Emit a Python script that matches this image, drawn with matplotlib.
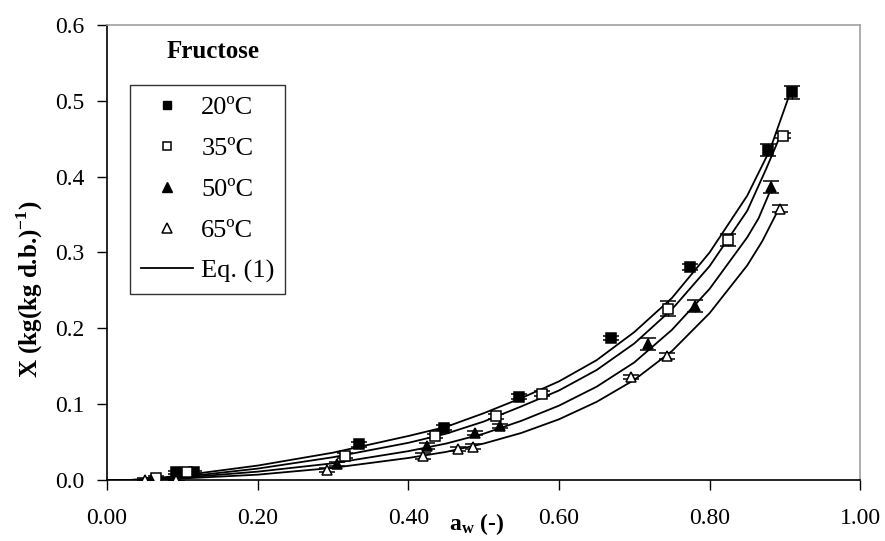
import matplotlib
matplotlib.use("Agg")
import matplotlib.pyplot as plt
from matplotlib.lines import Line2D
import numpy as np

plt.rcParams['font.family'] = ['Liberation Serif', 'DejaVu Serif']
plt.rcParams['mathtext.fontset'] = 'custom'
plt.rcParams['mathtext.rm'] = 'Liberation Serif'
plt.rcParams['mathtext.bf'] = 'Liberation Serif:bold'

# experimental points: water activity and moisture content
aw_20 = [0.092, 0.116, 0.335, 0.448, 0.547, 0.669, 0.774, 0.877, 0.910]
x_20 = [0.010, 0.010, 0.047, 0.069, 0.110, 0.187, 0.281, 0.435, 0.511]
aw_35 = [0.065, 0.106, 0.316, 0.436, 0.517, 0.578, 0.745, 0.825, 0.897]
x_35 = [0.003, 0.010, 0.032, 0.058, 0.084, 0.114, 0.226, 0.317, 0.454]
aw_50 = [0.058, 0.093, 0.305, 0.425, 0.488, 0.522, 0.718, 0.781, 0.882]
x_50 = [0.000, 0.001, 0.021, 0.045, 0.062, 0.071, 0.179, 0.229, 0.386]
aw_65 = [0.051, 0.092, 0.292, 0.420, 0.466, 0.486, 0.696, 0.743, 0.894]
x_65 = [0.000, 0.000, 0.013, 0.032, 0.041, 0.044, 0.136, 0.164, 0.358]

# error bar half-widths
err_20 = [0.002, 0.002, 0.003, 0.003, 0.003, 0.003, 0.004, 0.008, 0.008]
err_35 = [0.002, 0.002, 0.003, 0.003, 0.003, 0.003, 0.010, 0.008, 0.003]
err_50 = [0.002, 0.002, 0.003, 0.004, 0.003, 0.003, 0.008, 0.008, 0.008]
err_65 = [0.002, 0.002, 0.003, 0.004, 0.003, 0.003, 0.003, 0.004, 0.004]

# Eq. (1) curves
aw_fit = [0.0, 0.03, 0.05, 0.1, 0.2, 0.3, 0.4, 0.45, 0.5, 0.55, 0.6, 0.65, 0.7, 0.75, 0.8, 0.85]
fit_20 = [0.0, 0.0, 0.001, 0.006, 0.019, 0.036, 0.058, 0.070, 0.088, 0.108, 0.130, 0.158, 0.195, 0.240, 0.300, 0.375]
fit_35 = [0.0, 0.0, 0.001, 0.004, 0.015, 0.030, 0.049, 0.061, 0.077, 0.097, 0.118, 0.145, 0.180, 0.225, 0.282, 0.355]
fit_50 = [0.0, 0.0, 0.0, 0.003, 0.011, 0.022, 0.038, 0.048, 0.061, 0.078, 0.098, 0.123, 0.155, 0.198, 0.252, 0.320]
fit_65 = [0.0, 0.0, 0.0, 0.002, 0.007, 0.016, 0.029, 0.037, 0.048, 0.062, 0.080, 0.103, 0.132, 0.170, 0.220, 0.283]
end_20_aw = [0.88, 0.905]
end_20_x = [0.435, 0.505]
end_35_aw = [0.875, 0.893]
end_35_x = [0.41, 0.452]
end_50_aw = [0.865, 0.88]
end_50_x = [0.345, 0.380]
end_65_aw = [0.87, 0.888]
end_65_x = [0.315, 0.350]

fig = plt.figure(figsize=(8.85, 5.41), dpi=100)
ax = fig.add_axes([0.121, 0.1128, 0.851, 0.841])

ax.plot(aw_fit + end_20_aw, fit_20 + end_20_x, color='black', lw=1.3)
ax.plot(aw_fit + end_35_aw, fit_35 + end_35_x, color='black', lw=1.3)
ax.plot(aw_fit + end_50_aw, fit_50 + end_50_x, color='black', lw=1.3)
ax.plot(aw_fit + end_65_aw, fit_65 + end_65_x, color='black', lw=1.3)

ms = 6.5
series = [
    (aw_20, x_20, err_20, 's', 'black', ms),
    (aw_35, x_35, err_35, 's', 'white', ms),
    (aw_50, x_50, err_50, '^', 'black', ms + 1),
    (aw_65, x_65, err_65, '^', 'white', ms + 1),
]
for a, x, e, m, fc, size in series:
    ax.errorbar(a, x, yerr=e, fmt=m, mfc=fc, mec='black', ms=size, mew=1.1,
                ecolor='black', elinewidth=1, capsize=5.5, zorder=3)

ax.set_xlim(0, 1.0)
ax.set_ylim(0, 0.6)
xt = np.arange(0, 1.01, 0.2)
yt = np.arange(0, 0.61, 0.1)
ax.set_xticks(xt)
ax.set_yticks(yt)
ax.set_xticklabels([f"{v:.2f}" for v in xt])
ax.set_yticklabels([f"{v:.1f}" for v in yt])
ax.tick_params(labelsize=17, direction='out', length=7, width=1)
ax.tick_params(axis='x', pad=13)
ax.tick_params(axis='y', pad=9)
for s in ['top', 'right']:
    ax.spines[s].set_color('#a0a0a0')
    ax.spines[s].set_linewidth(1.2)
ax.spines['left'].set_linewidth(1.2)
ax.spines['bottom'].set_linewidth(1.2)

ax.set_xlabel(r'$\mathbf{a_w}$ (-)', fontsize=17, fontweight='bold')
ax.xaxis.set_label_coords(0.49, -0.068)
ax.set_ylabel(r'X (kg(kg d.b.)$^{\mathbf{-1}}$)', fontsize=18, fontweight='bold')
ax.yaxis.set_label_coords(-0.083, 0.42)

ax.text(0.141, 0.941, 'Fructose', transform=ax.transAxes, fontsize=18,
        fontweight='bold', ha='center', va='center')

handles = [
    Line2D([], [], ls='none', marker='s', mfc='black', mec='black', ms=6),
    Line2D([], [], ls='none', marker='s', mfc='white', mec='black', ms=6, mew=1.1),
    Line2D([], [], ls='none', marker='^', mfc='black', mec='black', ms=7),
    Line2D([], [], ls='none', marker='^', mfc='white', mec='black', ms=7, mew=1.1),
    Line2D([], [], color='black', lw=1.3),
]
labels = ['20ºC', '35ºC', '50ºC', '65ºC', 'Eq. (1)']
leg = ax.legend(handles, labels, loc='upper left', bbox_to_anchor=(0.0305, 0.868),
                fontsize=19, frameon=True, fancybox=False, edgecolor='black',
                handlelength=2.0, handletextpad=0.3, labelspacing=0.66,
                borderpad=0.4, borderaxespad=0)
leg.get_frame().set_linewidth(1.0)

fig.savefig('out.png', dpi=100)
